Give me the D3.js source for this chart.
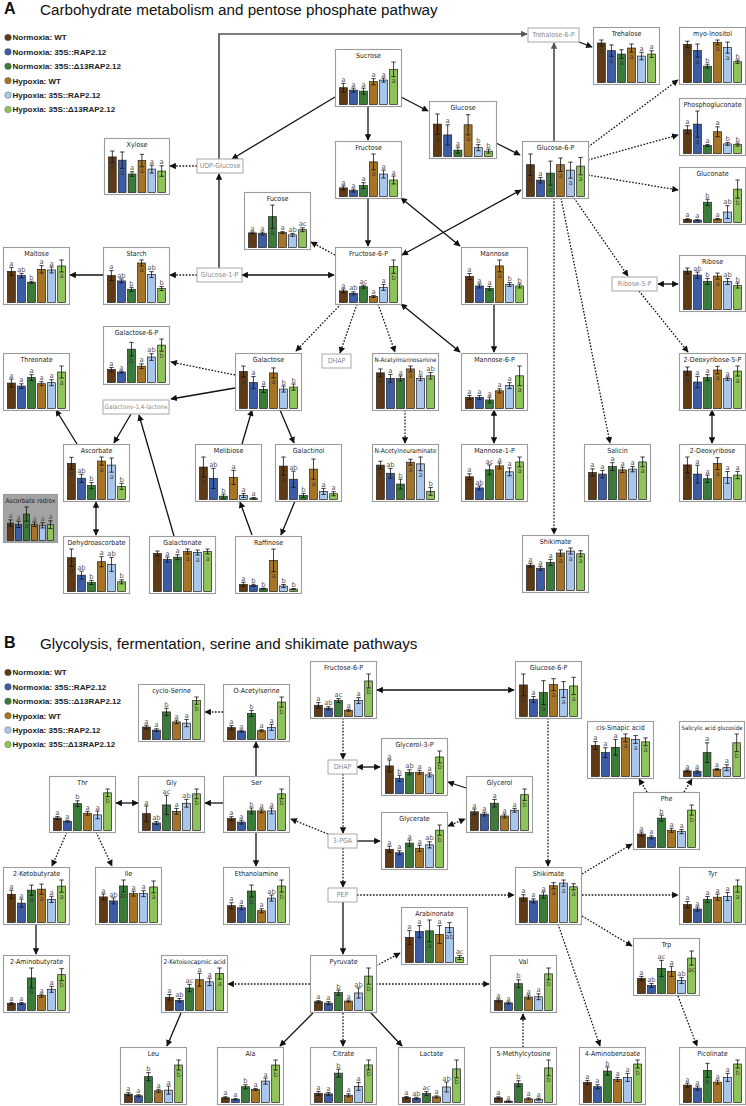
<!DOCTYPE html>
<html><head><meta charset="utf-8">
<script src="https://cdn.jsdelivr.net/npm/d3@7"></script>
<style>body{margin:0;background:#fff}svg{display:block}</style>
</head><body><svg id="c" width="746" height="1106"></svg>
<script>
// ---------- data ----------
const groups = ["Normoxia: WT","Normoxia: 35S::RAP2.12","Normoxia: 35S::\u039413RAP2.12","Hypoxia: WT","Hypoxia: 35S::RAP2.12","Hypoxia: 35S::\u039413RAP2.12"];
const groupColors = ["#5e3a16","#3c5ca6","#3b7b3a","#a67426","#a9c7ec","#8ec45a"];

const namesA = ["Xylose","Maltose","Starch","Sucrose","Glucose","Fructose","Fucose","Fructose-6-P","Mannose","Trehalose","myo-Inositol","Phosphogluconate","Gluconate","Glucose-6-P","Ribose","2-Deoxyribose-5-P","2-Deoxyribose","Salicin","Shikimate","Galactose-6-P","Threonate","Ascorbate","Ascorbate red/ox","Dehydroascorbate","Galactonate","Melibiose","Galactose","Galactinol","Raffinose","N-Acetylmannosamine","N-Acetylneuraminate","Mannose-6-P","Mannose-1-P"];
const meansA = [
 [36,32.7,18.7,32.3,23.7,21.7],[31.3,27,20.3,33.3,32.7,36.7],[27,21.7,13.3,39.7,28,14],[16.7,14.3,13.3,22.7,24.3,35],
 [32,21.3,6.3,31.3,8.7,5.3],[8.7,6,11,35,22.7,16.7],[15,14.3,31.7,15.3,13,18.3],[11.7,9.3,16,6,15.3,36.3],
 [26.3,16.7,14.3,37,18.3,16.7],[39.3,31.7,28.3,34.3,26.3,28.3],[39,32.7,16.7,41,35.7,21.3],[24,29.7,8,22,9.7,9],
 [3,2.3,20,3.3,10.3,33],[31.7,16.3,23.3,31.7,26.3,30.3],[38,34,27.7,33,27.7,23.7],[37.3,26.3,30.7,38.3,29.7,37.3],
 [35,25.7,21,36.3,22.3,24.7],[27.3,25.7,33.3,30,30.7,38],[25,22,27.7,37,39,36.3],[12.7,10.3,32.7,16,25,36.7],
 [25.3,22.3,30.7,24.7,25.7,36.3],[35.7,21,13.7,38,34,13],[18,16.7,27.3,16.7,15.7,16.3],[33.7,16.3,9,29.7,27,9.7],
 [38,32,34.3,40,39,40],[32.3,21,3.3,22,4,1.3],[36.7,25.7,19,35.3,19.3,21.3],[33,20,4,30,8,5.7],
 [7,6,2.7,30.3,5.3,2.3],[36.3,30.7,30.7,40.3,30.7,33.3],[35,26.7,15.7,38,36.3,8.3],[11.3,11.3,8.7,18,23.3,33.3],
 [23,11.7,30,34,28,38]];
const errorsA = [
 [6,8.3,2.3,6.3,4,5.3],[4,2.3,1,3.7,3,6],[5,2,2,3,3,2],[4.3,2,3,3,2,7.3],
 [10,10,3,10,3,2],[2,1.5,3,8,4,4],[1,1.5,12,1,1.5,2],[2,1.5,1.5,1,3,6.7],
 [3,2,2,6,2,2],[3,5.7,4.3,4,3.7,3.3],[3.3,6.7,2,2.5,5.7,1.7],[4,13.3,1,5,1.5,1.5],
 [0.7,0.5,3,0.7,6.3,9],[10.7,2.7,12,6.7,8,8.7],[3,3,3,3,3,2.5],[4,5.7,3,3.7,1.7,5],
 [8,9,3.7,6,6,3.7],[3.7,3.7,4,2.7,2.7,5],[2,2,3,3,3,3],[2,1,6.7,2.3,3.3,6],
 [4,2.3,3,2,3,6],[6,4,3,4,7,3],[3.3,3.3,7.3,2.3,2.7,4],[8.7,4,2,5,7,2],
 [2.5,2.5,2.5,2.5,2.5,2.5],[10,10,2,7,2,0.7],[5.5,6,3,5,3,3],[9,8,2,10,3,2],
 [2,1,0.5,11,1.5,0.5],[4,4,2.5,3,2.3,3.3],[4,5,5,3,7,4],[2,2,3,2,3,10],
 [3,2,5,3,4,5]];
const lettersA = [
 "a a a a a a","a ab b a a a","a ab b a ab b","a a a a a a",
 "a a a a b b","a a a a a a","a a a a ab ac","a ab ac a a b",
 "a a a a b b","a a a a a a","a a b a a b","a a a a b b",
 "a a b a ab b","a a a a a a","a ab b a ab b","a a a a a a",
 "a a a a a a","a a a a a a","a a a a a a","a a b a ab b",
 "a a a a a a","a ab b a a b","a a a a a a","a ab b a ab b",
 "a a a a a a","a ab b a a a","a a a a b b","a ab b a a a",
 "a b b a b b","a a a a b ab","a ab b a a b","a a a a a a",
 "a ab ac a a a"];
const insideA = ["110100","000001","000100","000001","100100","000100","001000","000001","000100","111100","110110","010000",
 "000001","101111","100100","100101","100100","000001","000111","001001","000001","100110","001000","100000",
 "100111","100000","100100","100100","000100","100100","100110","000001","000001"];

const namesB = ["cyclo-Serine","O-Acetylserine","Fructose-6-P","Glucose-6-P","Glycerol-3-P","Glycerol","Glycerate","Thr","Gly","Ser","cis-Sinapic acid","Salicylic acid glucoside","Phe","2-Ketobutyrate","Ile","Ethanolamine","Arabinonate","Pyruvate","Shikimate","Tyr","Trp","2-Aminobutyrate","2-Ketoisocaproic acid","Val","Leu","Ala","Citrate","Lactate","5-Methylcytosine","4-Aminobenzoate","Picolinate"];
const meansB = [
 [13.7,10.3,30.3,19.3,18,42.7],[11.7,8.3,25.7,8.7,12,37],[11.3,8.3,16,6.3,16,35.7],[31.7,17,24,32,27,30.7],
 [27.7,15.3,21.3,21.3,18.7,36.7],[19.7,17.3,28.7,15.3,21.3,37.7],[17.7,14.3,23.7,18.7,22,36.3],[13,9.7,28,18,16.3,39.3],
 [17.3,7.7,26.3,19.7,28,37.7],[12.3,8.7,20.3,20.3,20.3,38],[31.7,24.3,29.7,39.3,37.7,35.3],[5.7,5,24.3,7.3,9,34.3],
 [13.3,10,29,17,15.7,37],[27.7,19,31.7,32.7,22.7,35.7],[25.7,21.7,36.7,29,29,35.7],[16.7,14.7,31.3,11.7,24.3,36.3],
 [25.3,31.3,32,28.3,35.3,5],[8.7,7.3,17.7,9.3,17.3,34],[24,21,26.7,35.7,38.3,34.7],[17.7,13.3,22.7,25,25.7,36],
 [15,8,25,22,13,35.3],[7,7,32.7,15,21.3,36],[14.3,11,24.3,33.3,31,40],[10.3,7.7,27.3,13.7,14,37.3],
 [8.3,6.7,25.7,11.7,12.3,37.3],[4.7,3.3,15.7,13,21.3,37.3],[9.3,8.7,29.7,7.3,16.3,38],[5,4.3,9,5.7,15.7,34],
 [4.7,1.3,19,3.7,3.3,35],[20,15.7,31.3,23,25,38.3],[17.3,14.3,32,20.3,25,38.3]];
const errorsB = [
 [2,1.5,4,2,4,4],[2,1,3,1,3,5],[2.7,1.5,2,1,3,7],[11,3,12,6,8,8.7],
 [6,3,2.5,2,2,6],[3,2,4,2,2,6],[3,2,3,3,3,5],[1.5,1,3,2,4,4],
 [8,1.5,10,3,4,5],[2,2,3,2,3,5],[4,5,8,4,4,4],[1,1.5,10,1,3,9],
 [2,1.5,3,2,2,5],[4,4,5,5,3,6],[3,3,6,2.5,3,6],[3,2,6,2,3,6],
 [7,6,11,9,5,2],[1,1.5,2.5,1,5,8],[3,2,3,3,3,3],[3,2,3,3,4,6],
 [2,2,8,5,3,7],[1,1,10,1.5,3,6],[3,2,4,7,4,6],[1.5,1,4,2,3,6],
 [1.5,1,4,1.5,4,5],[1,0.5,2,1,3,5],[2,1.5,4,1.5,4,5],[1,1,2,1,5,9],
 [1,0.3,3,1,1,8],[2,2,4,2,4,4],[2,2,7,2,4,4]];
const lettersB = [
 "a a b a a b","a a b a a b","a ab ac a a b","a a a a a a",
 "a b ab a a b","a a a a a b","a a a a ab b","a a b a a b",
 "a ab ac a ab b","a a b a a b","a a a a a a","a a a a a b",
 "a a b a a b","a a a a a a","a ab ac a a a","a a b a ab b",
 "a a a a ab ac","a a b a ab b","a a a a a a","a a a a a a",
 "a ab ac a ab ac","a a b a a b","a ab ac a a a","a a b a a b",
 "a a b a a b","a a b a a b","a a b a a b","a ab ac a ab b",
 "a a b a a b","a a b a a b","a a b a a b"];
const insideB = ["000001","000001","000001","101111","000001","000001","000001","000001","000001","000001","000111","000001",
 "000001","001101","001001","001001","001010","000001","000111","000001","000001","001001","000001","000001",
 "000001","000001","000001","000001","000001","000001","001001"];

// ---------- layout (box positions: x, y, w, h) ----------
const layoutA = [[104,138,65,56],[3,247,66,57],[103,247,66,57],[335,49,66,57],[429,101,67,57],[335,141,66,57],[244,192,66,57],[335,247,66,57],
 [461,247,66,57],[593,27,66,57],[679,27,66,57],[679,98,66,57],[679,167,66,57],[522,141,66,57],[679,255,66,56],[679,353,66,57],
 [679,444,66,57],[584,444,66,57],[522,535,66,57],[103,326,66,58],[3,353,66,57],[63,444,66,57],[3,494,54,48],[63,536,66,57],
 [149,536,66,57],[195,444,66,57],[235,353,66,57],[275,444,66,57],[235,536,66,57],[372,353,66,57],[372,444,66,57],[461,353,66,57],
 [461,444,66,57]];
const layoutB = [[138,684,66,57],[223,684,66,57],[310,661,66,57],[515,661,66,57],[381,738,66,57],[466,776,66,56],[381,812,66,57],[49,776,66,56],
 [138,776,66,56],[223,776,66,56],[587,721,66,57],[679,721,65,57],[633,792,66,57],[3,867,66,57],[95,867,66,57],[223,867,66,57],
 [401,907,66,57],[310,955,66,57],[515,867,66,57],[679,867,66,57],[633,938,66,57],[3,955,66,57],[161,955,66,57],[490,955,66,57],
 [120,1047,66,57],[217,1047,66,57],[310,1047,66,57],[398,1047,66,57],[490,1047,66,57],[579,1047,66,57],[679,1047,66,57]];
const nodeBoxes = [["UDP-Glucose",197,159,46,14],["Glucose-1-P",197,268,45,14],["Trehalose-6-P",528,28,51,14],["Ribose-5-P",612,277,45,14],
 ["DHAP",322,354,29,14],["Galactono-1,4-lactone",103,400,66,14],["DHAP",328,760,29,14],["3-PGA",328,834,29,14],["PEP",328,888,29,14]];
// connectors: points, style (s solid, d dotted, g grey), double-headed
const links = [
 [[[335,97],[232,159]],"s",0],[[[401,97],[428,111]],"s",0],[[[368,107],[368,140]],"s",0],[[[368,199],[368,246]],"s",0],
 [[[496,143],[520,155]],"s",0],[[[401,198],[460,246]],"s",1],[[[521,190],[402,255]],"s",1],[[[554,141],[554,43]],"g",0],
 [[[219,159],[219,34],[527,34]],"g",0],[[[579,42],[592,47]],"s",0],[[[588,147],[678,80]],"d",0],[[[588,160],[678,135]],"d",0],
 [[[588,175],[678,190]],"d",0],[[[574,198],[628,276]],"d",0],[[[561,198],[610,443]],"d",0],[[[554,198],[554,534]],"d",0],
 [[[658,284],[678,284]],"s",1],[[[639,291],[688,352]],"d",0],[[[712,410],[712,443]],"s",1],[[[219,268],[219,174]],"s",0],
 [[[197,166],[170,166]],"d",0],[[[103,275],[70,275]],"s",0],[[[197,275],[170,275]],"d",0],[[[242,275],[334,275]],"s",1],
 [[[335,255],[311,242]],"d",0],[[[341,304],[296,351]],"d",0],[[[357,304],[340,353]],"d",0],[[[378,304],[395,352]],"d",0],
 [[[401,304],[460,352]],"s",1],[[[494,304],[494,352]],"s",0],[[[494,410],[494,443]],"s",1],[[[405,410],[405,443]],"d",0],
 [[[235,375],[171,362]],"d",0],[[[235,388],[171,399]],"s",0],[[[280,410],[294,443]],"s",0],[[[295,501],[281,535]],"s",0],
 [[[252,535],[240,502]],"s",0],[[[242,444],[252,410]],"s",0],[[[131,414],[114,443]],"s",0],[[[77,444],[56,410]],"s",0],
 [[[174,536],[139,415]],"s",0],[[[96,502],[96,535]],"s",1],
 [[[514,690],[377,690]],"s",1],[[[343,718],[343,759]],"d",0],[[[357,767],[380,767]],"s",1],[[[343,774],[343,833]],"d",0],
 [[[466,788],[448,782]],"s",0],[[[448,826],[465,819]],"d",1],[[[357,841],[380,841]],"s",0],[[[328,834],[291,819]],"d",0],
 [[[343,848],[343,887]],"d",0],[[[343,902],[343,954]],"s",0],[[[357,895],[514,895]],"d",0],[[[376,966],[400,953]],"d",0],
 [[[376,984],[489,984]],"d",0],[[[310,984],[228,984]],"d",0],[[[313,1013],[280,1046]],"s",0],[[[343,1013],[343,1046]],"d",0],
 [[[371,1013],[402,1046]],"s",0],[[[523,1047],[523,1014]],"d",0],[[[582,874],[632,844]],"d",0],[[[582,895],[678,895]],"d",0],
 [[[582,916],[632,946]],"d",0],[[[558,924],[600,1046]],"d",0],[[[678,996],[697,1046]],"d",0],[[[548,718],[548,866]],"d",0],
 [[[647,792],[639,779]],"d",0],[[[684,792],[692,779]],"d",0],[[[256,776],[256,742]],"s",0],[[[223,712],[205,712]],"d",0],
 [[[223,803],[205,803]],"s",0],[[[138,803],[116,803]],"s",1],[[[256,832],[256,866]],"s",0],[[[67,832],[52,866]],"d",0],
 [[[96,832],[112,866]],"d",0],[[[36,924],[36,954]],"s",0],[[[181,1013],[167,1046]],"s",0]];

// ---------- drawing ----------
const svg = d3.select("#c");
const defs = svg.append("defs");
[["ah","#111"],["ahg","#555"]].forEach(([id,col])=>{
  defs.append("marker").attr("id",id).attr("viewBox","0 0 10 10").attr("refX",9).attr("refY",5)
    .attr("markerWidth",7).attr("markerHeight",6.5).attr("markerUnits","userSpaceOnUse").attr("orient","auto-start-reverse")
    .append("path").attr("d","M0,0 L10,5 L0,10 Z").attr("fill",col);
});

function panelHeader(letter, title, y, legendY){
  svg.append("text").attr("x",4).attr("y",y).attr("font-family","Liberation Sans, Arial").attr("font-weight","bold")
    .attr("font-size",16).attr("fill","#111").text(letter);
  svg.append("text").attr("x",40).attr("y",y+0.5).attr("font-family","Liberation Sans, Arial")
    .attr("font-size",15.2).attr("fill","#111").text(title);
  const lg = svg.append("g");
  groups.forEach((gname,i)=>{
    const yy = legendY + i*14.4;
    lg.append("circle").attr("cx",8).attr("cy",yy).attr("r",3.3).attr("fill",groupColors[i]).attr("stroke","#555").attr("stroke-width",0.4);
    lg.append("text").attr("x",12.5).attr("y",yy+2.8).attr("font-family","Liberation Sans, Arial").attr("font-weight","bold")
      .attr("font-size",8).attr("fill","#222").text(gname);
  });
}
panelHeader("A","Carbohydrate metabolism and pentose phosphate pathway",14,37.5);
panelHeader("B","Glycolysis, fermentation, serine and shikimate pathways",648,672.5);

// connectors
const lineGen = d3.line();
const gl = svg.append("g");
links.forEach(([pts,style,dbl])=>{
  const p = gl.append("path").attr("d",lineGen(pts)).attr("fill","none")
    .attr("stroke", style==="g" ? "#555" : "#111").attr("stroke-width", style==="g" ? 1.7 : 1.3)
    .attr("marker-end", style==="g" ? "url(#ahg)" : "url(#ah)");
  if(style==="d") p.attr("stroke-dasharray","1.6,1.6");
  if(dbl) p.attr("marker-start","url(#ah)");
});

// node boxes
nodeBoxes.forEach(([t,x,y,w,h])=>{
  svg.append("rect").attr("x",x).attr("y",y).attr("width",w).attr("height",h).attr("fill","#fff").attr("stroke","#a8a8a8").attr("stroke-width",1);
  const nt = svg.append("text").attr("x",x+w/2).attr("y",y+h/2+2.4).attr("text-anchor","middle").attr("font-family","DejaVu Sans Condensed, DejaVu Sans")
    .attr("font-size",7).attr("fill","#8a8a8a").text(t);
  const nl = nt.node().getComputedTextLength();
  if(nl > w-3) nt.attr("font-size", 7*(w-3)/nl);
});

function miniChart(name, means, errs, letterStr, insideStr, box){
  const [x,y,w,h] = box;
  const g = svg.append("g");
  const grey = name==="Ascorbate red/ox";
  g.append("rect").attr("x",x+0.5).attr("y",y+0.5).attr("width",w).attr("height",h)
    .attr("fill", grey ? "#a3a3a3" : "#fff").attr("stroke","#9c9c9c").attr("stroke-width",1.1);
  const tt = g.append("text").attr("x",x+w/2+0.5).attr("y",y+9).attr("text-anchor","middle").attr("font-family","DejaVu Sans Condensed, DejaVu Sans")
    .attr("font-size",7).attr("fill","#222").text(name);
  const len = tt.node().getComputedTextLength();
  if(len > w-4) tt.attr("font-size", 7*(w-4)/len);
  const letters = letterStr.split(" ");
  const xs = d3.scaleBand().domain(d3.range(6)).range([x+4, x+w-3]).paddingInner(0.22).paddingOuter(0.05);
  const ymax = d3.max(means.map((m,i)=>m+errs[i]));
  const ys = d3.scaleLinear().domain([0,ymax]).range([y+h-1.5, y+13]);
  means.forEach((m,i)=>{
    const bx = xs(i), bw = xs.bandwidth(), cx = bx + bw/2;
    g.append("rect").attr("x",bx).attr("y",ys(m)).attr("width",bw).attr("height",ys(0)-ys(m))
      .attr("fill",groupColors[i]).attr("stroke","#1e1e1e").attr("stroke-width",0.7);
    const e = errs[i];
    const lo = ys(Math.max(0,m-e)), hi = ys(m+e);
    g.append("line").attr("x1",cx).attr("x2",cx).attr("y1",lo).attr("y2",hi).attr("stroke","#111").attr("stroke-width",0.8);
    [lo,hi].forEach(yy=>g.append("line").attr("x1",cx-2.2).attr("x2",cx+2.2).attr("y1",yy).attr("y2",yy).attr("stroke","#111").attr("stroke-width",0.8));
    const ins = insideStr[i]==="1";
    const ly = ins ? Math.min(lo+6.5, ys(0)-1) : hi-1.4;
    g.append("text").attr("x",cx).attr("y",ly).attr("text-anchor","middle").attr("font-family","DejaVu Sans")
      .attr("font-size",6.8).attr("fill", ins ? "#2a2a2a" : "#555").attr("fill-opacity", ins ? 0.8 : 1).text(letters[i]);
  });
}
namesA.forEach((n,i)=>miniChart(n, meansA[i], errorsA[i], lettersA[i], insideA[i], layoutA[i]));
namesB.forEach((n,i)=>miniChart(n, meansB[i], errorsB[i], lettersB[i], insideB[i], layoutB[i]));
</script>
</body></html>
